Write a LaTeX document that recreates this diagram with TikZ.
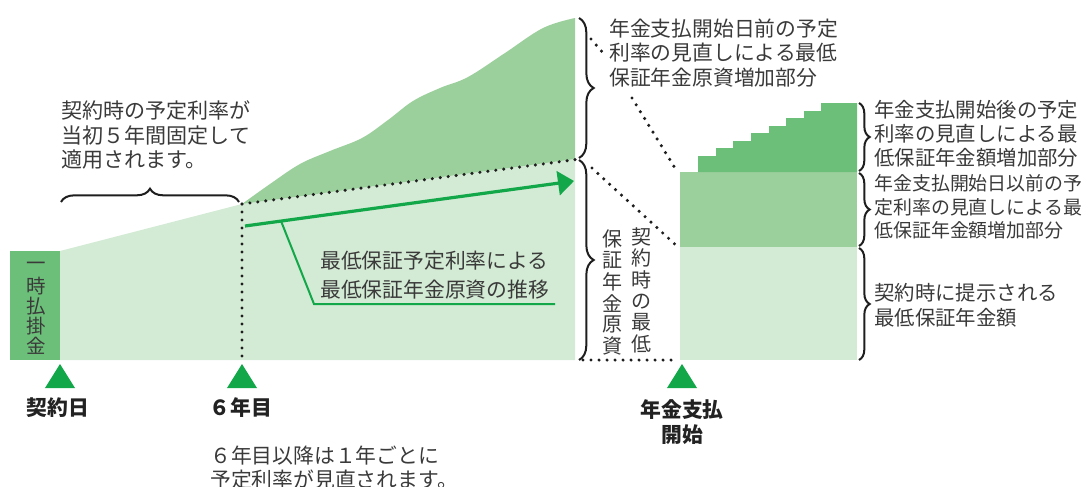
\documentclass[tikz,border=0pt]{standalone}
\usepackage{fontspec}
\setmainfont{Noto Sans CJK JP}
\usetikzlibrary{decorations.pathreplacing,arrows.meta}
\definecolor{lg}{HTML}{D3EAD4}
\definecolor{mg}{HTML}{9BCF9C}
\definecolor{dg}{HTML}{6CBF79}
\definecolor{bg}{HTML}{12A84A}
\definecolor{tx}{HTML}{3A3A3A}
\definecolor{lb}{HTML}{222222}
\definecolor{dk}{HTML}{1E1E1E}
\begin{document}
\begin{tikzpicture}[x=0.75pt,y=-0.75pt,
  txt/.style={text=tx, inner sep=0pt, font=\fontsize{15.6pt}{18.6pt}\selectfont, align=left},
  vtxt/.style={text=tx, inner sep=0pt, font=\fontsize{15pt}{16pt}\selectfont},
  lbl/.style={text=lb, inner sep=0pt, font=\fontsize{15.6pt}{18.6pt}\selectfont\bfseries, align=center},
  dots/.style={draw=dk, line width=2.6pt, line cap=round, dash pattern=on 0pt off 6pt},
  brc/.style={draw=dk, decorate, decoration={brace, amplitude=#1}, line width=1.5pt},
  tri/.style={fill=bg, draw=none}
]
\useasboundingbox (0,0) rectangle (1088,486);

% ---- key points ----
\coordinate (L0) at (60,251);
\coordinate (S6) at (242,204);
\coordinate (S6b) at (242,360);
\coordinate (E1) at (575,159);
\coordinate (Ebr) at (580,159);
\coordinate (Etop) at (575,18);

% ---- left chart ----
\fill[dg] (10,251) rectangle (60,360);
\fill[lg] (L0) -- (S6) -- (E1) -- (575,360) -- (60,360) -- cycle;
\fill[mg] plot[smooth, tension=0.6] coordinates {(242,204) (270,184) (300,164) (330,151) (362,138) (388,120) (413,101) (440,88) (468,77) (505,53) (543,28) (575,18)} -- (E1) -- cycle;

\foreach \c [count=\i from 0] in {一,時,払,掛,金}
  \node[vtxt, font=\fontsize{14.6pt}{15pt}\selectfont] (lump-\i) at (36,266+\i*20) {\c};

% dotted lines
\draw[dots] (S6) -- (Ebr);
\draw[dots] (S6) -- (S6b);

% green arrow and callout
\coordinate (A0) at (245,226);
\coordinate (A1) at (574,181);
\draw[bg, line width=2.4pt, -{Triangle[length=12pt,width=18pt]}] (A0) -- (A1);
\coordinate (C0) at (281,221);
\coordinate (C1) at (314,304);
\coordinate (C2) at (555,304);
\draw[bg, line width=1.5pt] (C0) -- (C1) -- (C2);
\node[txt, anchor=west, font=\fontsize{15.6pt}{21.75pt}\selectfont] (calltxt) at (320,275) {最低保証予定利率による\\最低保証年金原資の推移};

% top-left brace and text
\draw[brc=10pt] (61,202) -- (239,202);
\node[txt, anchor=west, font=\fontsize{15.8pt}{18.3pt}\selectfont] (fixtxt) at (61,135) {契約時の予定利率が\\当初５年間固定して\\適用されます。};

% markers
\fill[tri] (45,388) -- (75,388) -- (60,364) -- cycle;
\fill[tri] (227,388) -- (257,388) -- (242,364) -- cycle;
\fill[tri] (667,388) -- (697,388) -- (682,364) -- cycle;
\node[lbl] (d0) at (58,408) {契約日};
\node[lbl] (d6) at (241,408) {６年目};
\node[lbl, font=\fontsize{15.6pt}{18.75pt}\selectfont\bfseries] (dp) at (682,422) {年金支払\\開始};
\node[txt, anchor=north west, font=\fontsize{15.6pt}{18pt}\selectfont] (note) at (210,446) {６年目以降は１年ごとに\\予定利率が見直されます。};

% ---- middle braces ----
\draw[brc=11pt] (579,18) -- (579,158);
\draw[brc=11pt] (579,160) -- (579,360);
\node[txt, anchor=west, font=\fontsize{15.6pt}{18.4pt}\selectfont] (uptxt) at (609,53) {年金支払開始日前の予定\\利率の見直しによる最低\\保証年金原資増加部分};
\coordinate (U0) at (591,39);
\coordinate (U1) at (604,54);
\draw[dots] (U0) -- (U1);

\foreach \c [count=\i from 0] in {契,約,時,の,最,低}
  \node[vtxt] (vc1-\i) at (641,237+\i*21.4) {\c};
\foreach \c [count=\i from 0] in {保,証,年,金,原,資}
  \node[vtxt] (vc2-\i) at (612,239+\i*21.4) {\c};

% ---- right chart ----
\fill[lg] (680,247) rectangle (857,360);
\fill[mg] (680,172) rectangle (857,247);
\fill[dg] (698,172) -- (698,156) -- (716,156) -- (716,148) -- (733,148) -- (733,141) -- (751,141) -- (751,133) -- (769,133) -- (769,126) -- (786,126) -- (786,118) -- (804,118) -- (804,111) -- (821,111) -- (821,103) -- (857,103) -- (857,172) -- cycle;

\coordinate (R1) at (678,247);
\coordinate (R2) at (678,173);
\coordinate (B0) at (592,168);
\coordinate (B1) at (632,98);
\draw[dots] (B0) -- (R1);
\draw[dots] (B1) -- (R2);
\coordinate (H0) at (583,360);
\coordinate (H1) at (676,360);
\draw[dots] (H0) -- (H1);

% right braces
\draw[brc=8pt] (859,103) -- (859,171);
\draw[brc=8pt] (859,173) -- (859,246);
\draw[brc=8pt] (859,248) -- (859,360);
\node[txt, anchor=west, font=\fontsize{15.3pt}{18pt}\selectfont] (r1txt) at (874,134) {年金支払開始後の予定\\利率の見直しによる最\\低保証年金額増加部分};
\node[txt, anchor=west, font=\fontsize{14.2pt}{17.6pt}\selectfont] (r2txt) at (874,207) {年金支払開始日以前の予\\定利率の見直しによる最\\低保証年金額増加部分};
\node[txt, anchor=west, font=\fontsize{15.3pt}{18.75pt}\selectfont] (r3txt) at (874,305) {契約時に提示される\\最低保証年金額};
\end{tikzpicture}
\end{document}
